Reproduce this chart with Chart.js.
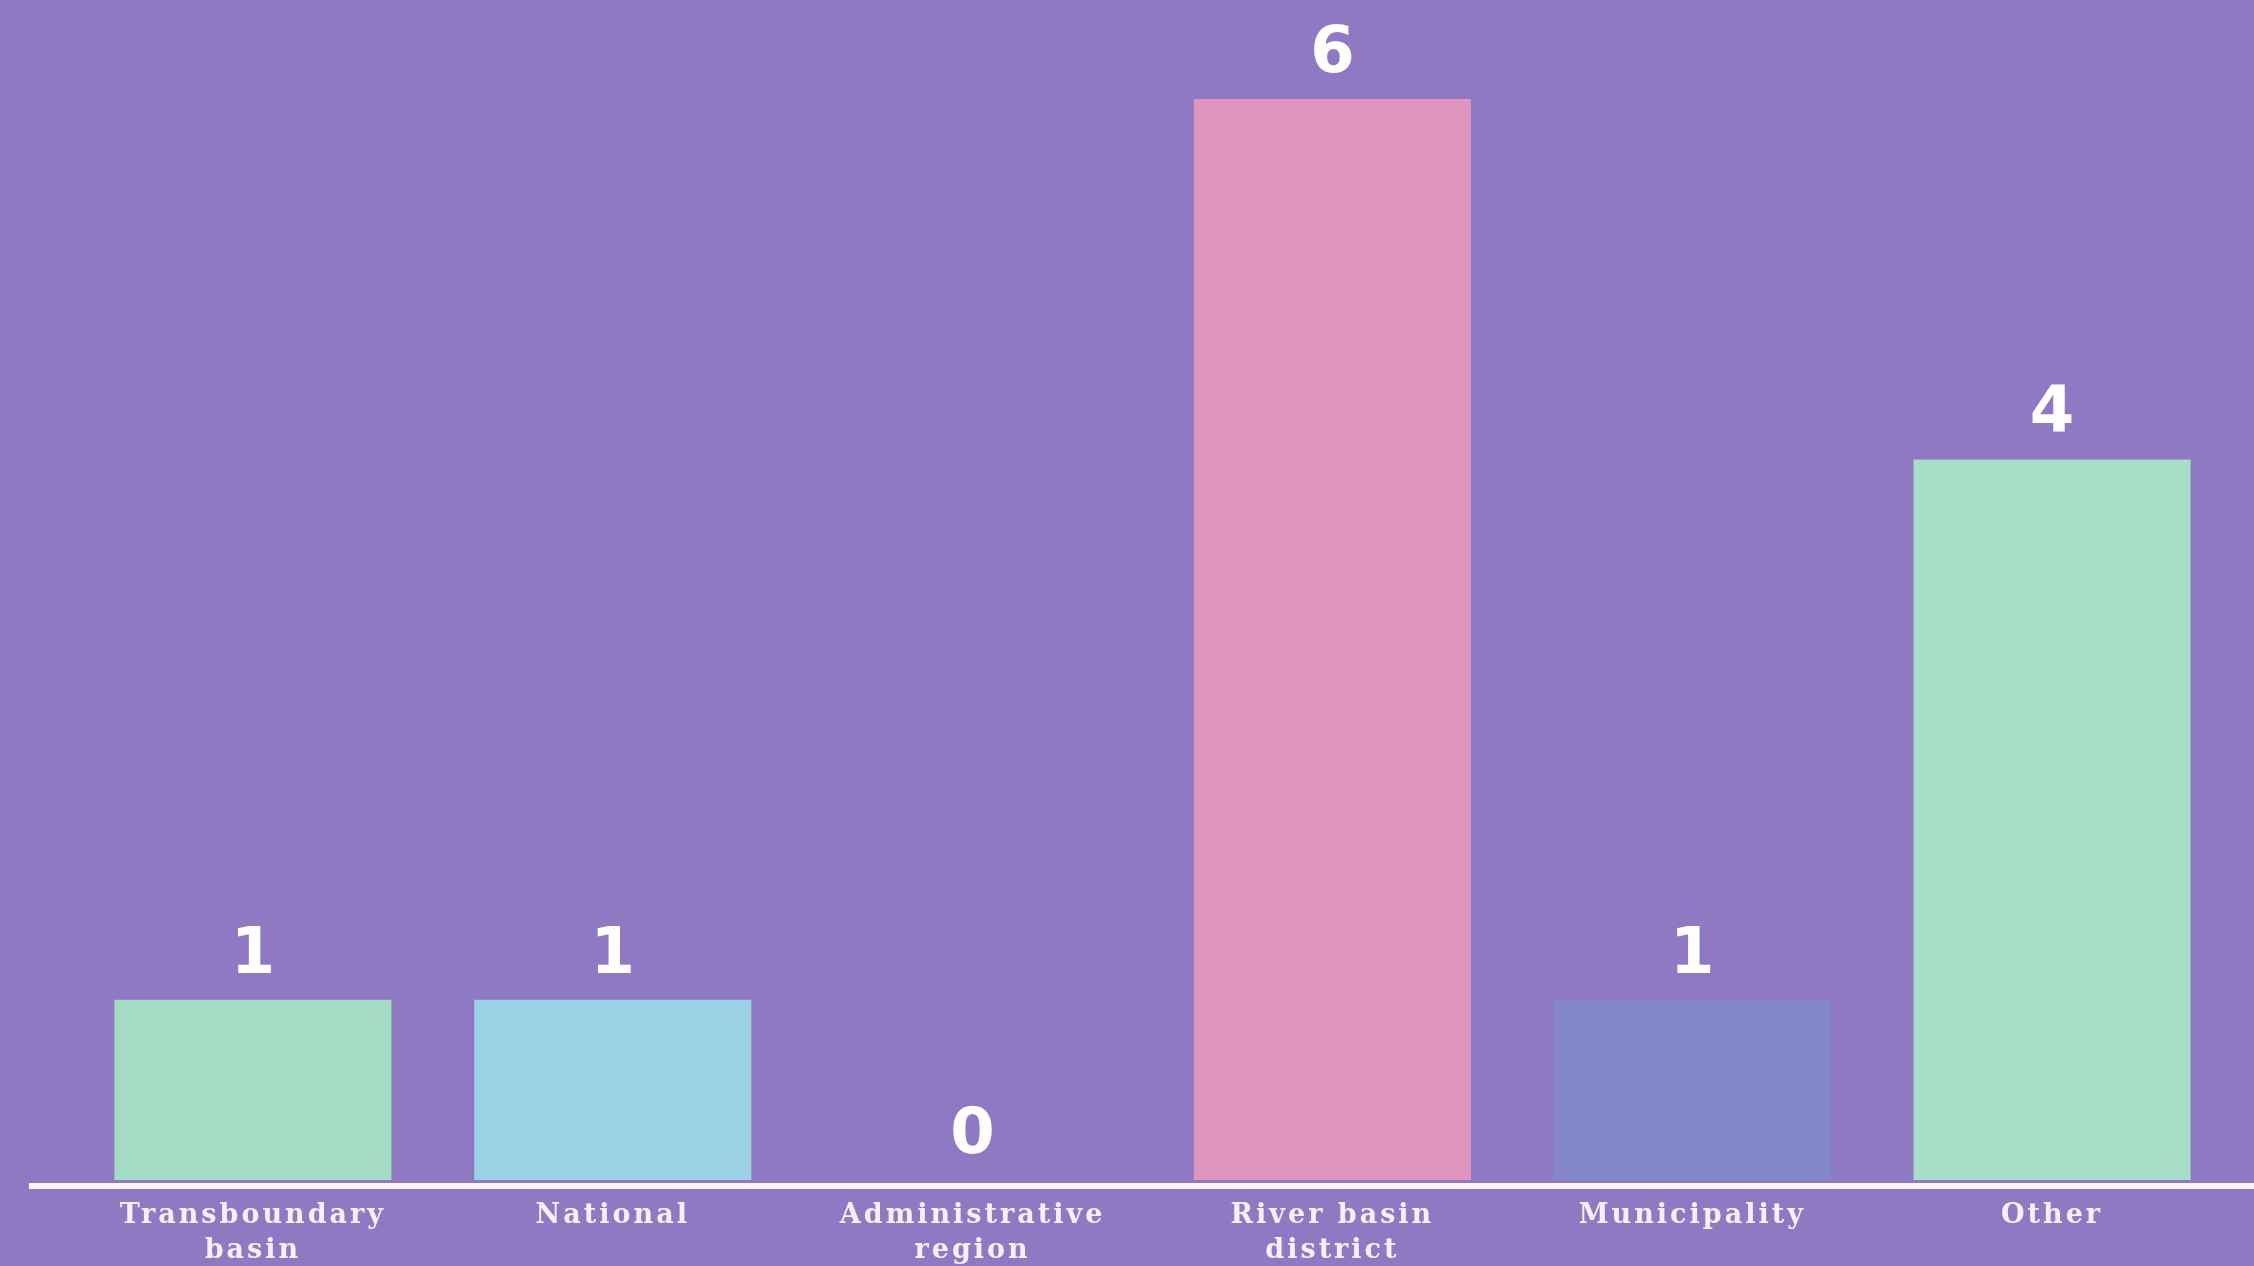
<!DOCTYPE html>
<html>
<head>
<meta charset="utf-8">
<script src="https://cdn.jsdelivr.net/npm/chart.js@4.4.1/dist/chart.umd.min.js"></script>
<style>
  html, body { margin: 0; padding: 0; background: #9079c3; }
  #wrap { width: 2254px; height: 1266px; }
</style>
</head>
<body>
<div id="wrap"><canvas id="c" width="2254" height="1266"></canvas></div>
<script>
const categories = [["Transboundary", "basin"], "National", ["Administrative", "region"], ["River basin", "district"], "Municipality", "Other"];
const values = [1, 1, 0, 6, 1, 4];
const barColors = ["#a4dcc6", "#9bd1e4", "#a4dcc6", "#df95bd", "#8387c9", "#a6dec8"];
const yMax = 6.55;

const BG = "#9079c3";

const bgPlugin = {
  id: "bg",
  beforeDraw(chart) {
    const ctx = chart.ctx;
    ctx.save();
    ctx.fillStyle = BG;
    ctx.fillRect(0, 0, chart.width, chart.height);
    ctx.restore();
    ctx.letterSpacing = "3px";
  }
};

const baselinePlugin = {
  id: "baseline",
  afterDatasetsDraw(chart) {
    const ctx = chart.ctx;
    const y0 = chart.scales.y.getPixelForValue(0) + 6;
    ctx.save();
    ctx.strokeStyle = "#fdf6fb";
    ctx.lineWidth = 6;
    ctx.beginPath();
    ctx.moveTo(29, y0);
    ctx.lineTo(chart.width, y0);
    ctx.stroke();
    ctx.restore();
  }
};

const valueLabelPlugin = {
  id: "valueLabels",
  afterDatasetsDraw(chart) {
    const ctx = chart.ctx;
    const meta = chart.getDatasetMeta(0);
    ctx.save();
    ctx.letterSpacing = "0px";
    ctx.fillStyle = "#ffffff";
    ctx.font = "bold 64px 'DejaVu Sans'";
    ctx.textAlign = "center";
    ctx.textBaseline = "alphabetic";
    meta.data.forEach((bar, i) => {
      ctx.fillText(String(values[i]), bar.x, bar.y - 27);
    });
    ctx.restore();
  }
};

new Chart(document.getElementById("c"), {
  type: "bar",
  data: {
    labels: categories,
    datasets: [{
      data: values,
      backgroundColor: barColors,
      borderWidth: 0,
      barPercentage: 0.77,
      categoryPercentage: 1.0
    }]
  },
  options: {
    responsive: false,
    animation: false,
    devicePixelRatio: 1,
    layout: { padding: { left: 73, right: 22, top: 0, bottom: 0 } },
    plugins: { legend: { display: false }, tooltip: { enabled: false } },
    scales: {
      x: {
        grid: { display: false, drawTicks: false },
        border: { display: false },
        ticks: {
          color: "#f7f0fa",
          font: { family: "'DejaVu Serif'", weight: "bold", size: 27, lineHeight: "35px" },
          padding: 18,
          maxRotation: 0,
          autoSkip: false
        },
        afterFit(scale) { scale.height = 86; }
      },
      y: {
        display: false,
        min: 0,
        max: yMax
      }
    }
  },
  plugins: [bgPlugin, baselinePlugin, valueLabelPlugin]
});
</script>
</body>
</html>
